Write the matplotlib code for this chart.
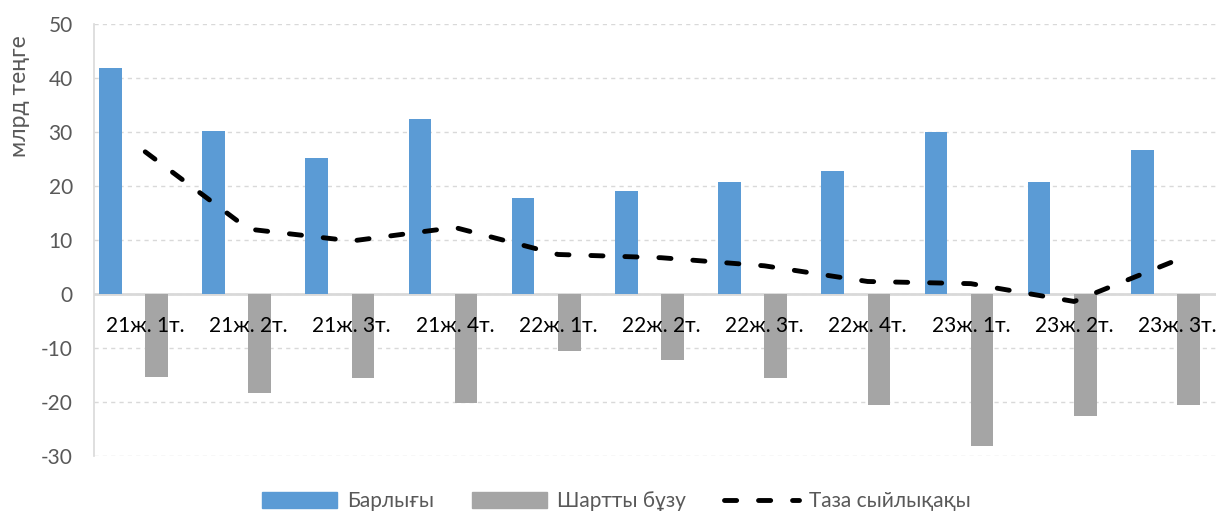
import numpy as np
import matplotlib
matplotlib.use('Agg')
import matplotlib.pyplot as plt
from matplotlib.patches import Patch
from matplotlib.lines import Line2D

plt.rcParams['font.family'] = ['Lato', 'Open Sans', 'DejaVu Sans']
plt.rcParams['axes.unicode_minus'] = False

# data (billion tenge)
categories = ['21ж. 1т.', '21ж. 2т.', '21ж. 3т.', '21ж. 4т.', '22ж. 1т.', '22ж. 2т.',
              '22ж. 3т.', '22ж. 4т.', '23ж. 1т.', '23ж. 2т.', '23ж. 3т.']
total = [41.8, 30.2, 25.1, 32.3, 17.8, 19.0, 20.7, 22.8, 29.9, 20.8, 26.7]
breach = [-15.4, -18.3, -15.5, -20.1, -10.5, -12.3, -15.5, -20.6, -28.1, -22.6, -20.5]
net = [26.3, 12.0, 9.8, 12.3, 7.3, 6.7, 5.2, 2.3, 1.9, -1.4, 6.3]
legend_labels = ['Барлығы', 'Шартты бұзу', 'Таза сыйлықақы']

blue = '#5B9BD5'
grey = '#A5A5A5'
txt = '#595959'
grid = '#D9D9D9'

fig = plt.figure(figsize=(12.16, 5.17), dpi=100)
ax = fig.add_axes([0.077, 0.118, 0.923, 0.836])

x = np.arange(len(categories))
w = 0.22
ax.bar(x - 0.339, total, width=w, color=blue, zorder=3)
ax.bar(x + 0.109, breach, width=w, color=grey, zorder=3)
ax.plot(x, net, color='black', lw=3.5, ls=(0, (2.5, 4.5)),
        dash_capstyle='round', zorder=4)

ax.set_ylim(-30, 50)
ax.set_xlim(-0.5, 10.375)
ax.set_yticks(np.arange(-30, 51, 10))
ax.tick_params(axis='y', length=0, labelsize=15, labelcolor=txt, pad=15)
ax.set_xticks([])
ax.yaxis.grid(True, color=grid, ls=(0, (3, 3)), lw=1, zorder=0)
ax.axhline(0, color=grid, lw=2, zorder=2)
for s in ['top', 'right', 'bottom']:
    ax.spines[s].set_visible(False)
ax.spines['left'].set_color(grid)
ax.spines['left'].set_linewidth(1.2)

for xi, c in zip(x, categories):
    ax.text(xi, -6, c, ha='center', va='center', fontsize=15, color='black', zorder=5)

fig.text(0.016, 0.815, 'млрд теңге', rotation=90, ha='center', va='center',
         fontsize=16.5, color=txt)

handles = [Patch(color=blue), Patch(color=grey),
           Line2D([0], [0], color='black', lw=3.5, ls=(0, (2.5, 4.5)), dash_capstyle='round')]
fig.legend(handles, legend_labels, loc='center', bbox_to_anchor=(0.507, 0.03), ncol=3,
           frameon=False, fontsize=15, labelcolor=txt, handlelength=3.6,
           handleheight=0.8, columnspacing=1.8, handletextpad=0.5, borderpad=0)

fig.savefig('out.png', dpi=100)
